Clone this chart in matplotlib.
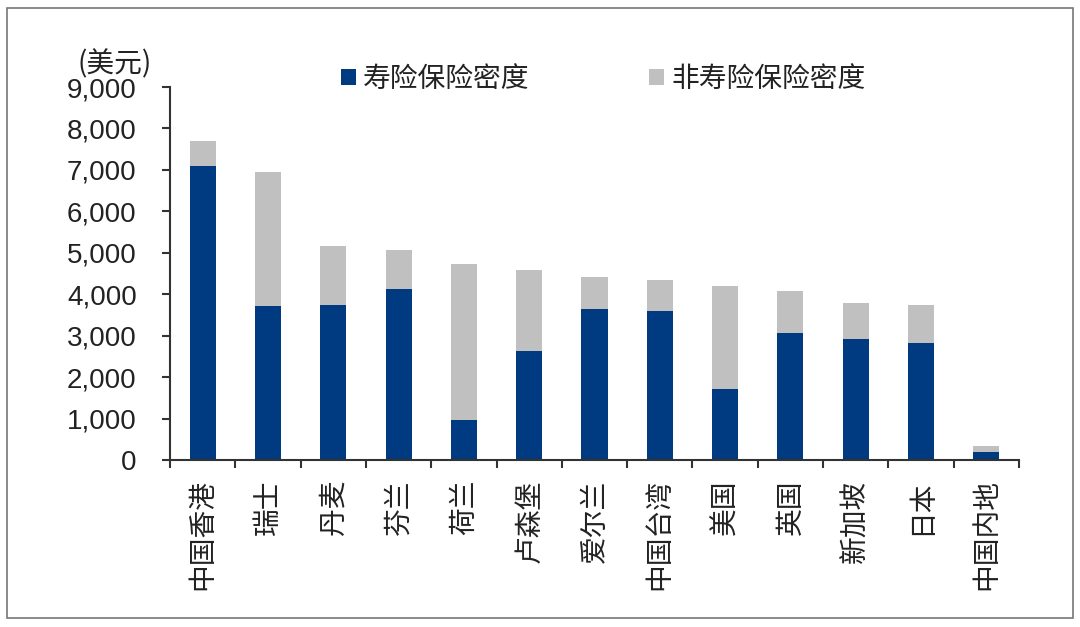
import numpy as np
import matplotlib.pyplot as plt
from matplotlib.patches import Rectangle
from matplotlib.ticker import FuncFormatter

plt.rcParams['font.family'] = ['Noto Sans CJK SC', 'DejaVu Sans']

regions = ['中国香港', '瑞士', '丹麦', '芬兰', '荷兰', '卢森堡', '爱尔兰',
           '中国台湾', '美国', '英国', '新加坡', '日本', '中国内地']
total = [7700, 6950, 5160, 5070, 4730, 4580, 4420, 4340, 4200, 4080, 3790, 3740, 340]
life = [7090, 3720, 3740, 4130, 970, 2630, 3640, 3600, 1710, 3060, 2920, 2820, 190]
nonlife = [t - l for t, l in zip(total, life)]

blue = '#003A80'
grey = '#C0C0C0'

fig = plt.figure(figsize=(10.8, 6.27), dpi=100)
ax = fig.add_axes([0.1574, 0.2663, 0.7861, 0.5949])

x = np.arange(len(regions))
ax.bar(x, life, width=0.4, color=blue, label='寿险保险密度')
ax.bar(x, nonlife, width=0.4, bottom=life, color=grey, label='非寿险保险密度')

ax.set_xlim(-0.5, len(regions) - 0.5)
ax.set_ylim(0, 9000)
ax.set_yticks(np.arange(0, 9001, 1000))
ax.yaxis.set_major_formatter(FuncFormatter(lambda v, p: f'{int(v):,}'))
for lab in ax.get_yticklabels():
    lab.set_fontfamily(['Liberation Sans', 'DejaVu Sans'])
    lab.set_fontsize(20)
    lab.set_color('#222222')

# ticks between categories, labels at the centres
ax.set_xticks(np.arange(-0.5, len(regions), 1.0))
ax.set_xticklabels([])
ax.set_xticks(x, minor=True)
ax.set_xticklabels(regions, minor=True, rotation=90, fontsize=20, va='top', ha='center', color='#222222')
ax.tick_params(axis='x', which='minor', length=0, pad=14)
ax.tick_params(axis='x', which='major', length=6, width=1.5, color='#333333', direction='out')
ax.tick_params(axis='y', length=6, width=1.5, color='#333333', direction='out', pad=18)

for s in ['top', 'right']:
    ax.spines[s].set_visible(False)
for s in ['left', 'bottom']:
    ax.spines[s].set_linewidth(1.5)
    ax.spines[s].set_color('#333333')

fig.text(0.072, 0.898, '(美元)', fontsize=20, color='#222222', va='center')

ax.legend(loc='center left', bbox_to_anchor=(0.172, 1.022), ncol=2, frameon=False,
          fontsize=20, handlelength=0.55, handleheight=0.55, handletextpad=0.25,
          columnspacing=4.3, labelcolor='#222222')

fig.patches.append(Rectangle((7 / 1080, 9 / 627), 1066 / 1080, 610 / 627,
                             transform=fig.transFigure, fill=False,
                             edgecolor='#777777', linewidth=1.2))

fig.savefig('out.png', dpi=100)
